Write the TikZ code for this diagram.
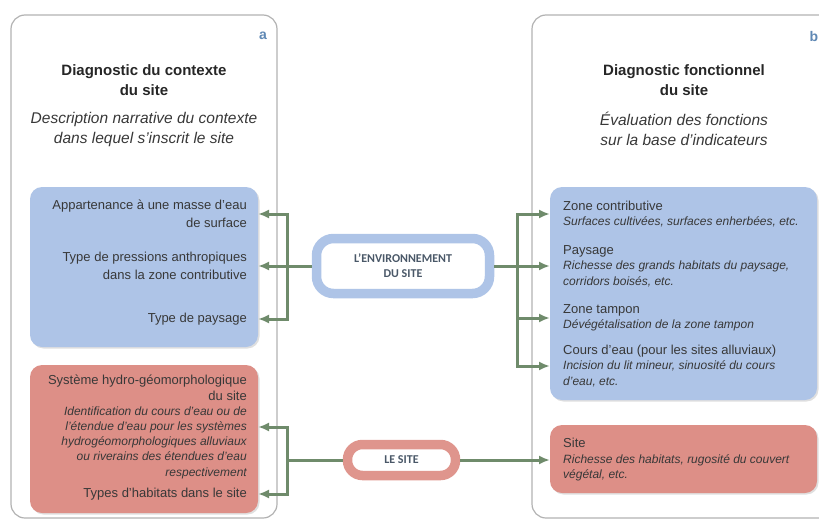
\documentclass[tikz,border=0pt]{standalone}
\usepackage{fontspec}
\setmainfont{Liberation Sans}
\newfontfamily\capfont{Carlito}
\usepackage{tikz}
\usetikzlibrary{arrows.meta,shadows}
\definecolor{boxblue}{HTML}{AEC4E7}
\definecolor{boxred}{HTML}{DD8F87}
\definecolor{linkgreen}{HTML}{6F8B6B}
\definecolor{txtgray}{HTML}{383838}
\definecolor{capgray}{HTML}{4A5868}
\definecolor{letterblue}{HTML}{5F88B4}
\newcommand\itnote[1]{{\fontsize{12}{15}\selectfont\itshape #1}}

\begin{document}
\begin{tikzpicture}[x=1pt, y=-1pt,
  panel/.style={draw=gray!60, line width=1.2, rounded corners=14, inner sep=0},
  colbox/.style={rounded corners=12, inner sep=0, drop shadow={opacity=0.25, shadow xshift=1.5pt, shadow yshift=-1.5pt}},
  title/.style={font=\bfseries\fontsize{15}{20}\selectfont, align=center, text=black!85},
  subtitle/.style={font=\itshape\fontsize{15.5}{20}\selectfont, align=center, text=txtgray},
  letter/.style={font=\bfseries\fontsize{14}{14}\selectfont, text=letterblue},
  leftitem/.style={anchor=east, align=right, inner xsep=11, inner ysep=0, text=txtgray, font=\fontsize{13}{17.5}\selectfont},
  rightitem/.style={anchor=west, align=left, inner xsep=13, inner ysep=0, text=txtgray, font=\fontsize{13}{15.5}\selectfont},
  hub/.style={draw, fill=white, line width=9.5, rounded corners=17, inner sep=0, align=center, text=capgray, font=\capfont\bfseries\fontsize{12}{15}\selectfont},
  link/.style={draw=linkgreen, line width=3},
  arr/.style={link, -{Latex[length=11pt, width=9pt]}}]
\clip (0,0) rectangle (819,522);
%panels
\node[panel, minimum width=266, minimum height=503] (pa) at (144,266.5) {};
\node[panel, minimum width=304, minimum height=503] (pb) at (684,266.5) {};
\node[letter] (la) at (263,36) {a};
\node[letter] (lb) at (814,36) {b};
\node[title] (ta) at (144,80) {Diagnostic du contexte\\du site};
\node[subtitle] (sa) at (144,129) {Description narrative du contexte\\dans lequel s’inscrit le site};
\node[title] (tb) at (684,80) {Diagnostic fonctionnel\\du site};
\node[subtitle] (sb) at (684,129) {Évaluation des fonctions\\sur la base d’indicateurs};
%coloured boxes
\node[colbox, fill=boxblue, minimum width=228, minimum height=160] (ga) at (144,267) {};
\node[colbox, fill=boxblue, minimum width=267, minimum height=213] (gb) at (683.5,293.5) {};
\node[colbox, fill=boxred, minimum width=228, minimum height=148] (ra) at (144,439) {};
\node[colbox, fill=boxred, minimum width=267, minimum height=68] (rb) at (683.5,459) {};
%left items
\node[leftitem] (a1) at (258,214) {Appartenance à une masse d’eau\\de surface};
\node[leftitem] (a2) at (258,266) {Type de pressions anthropiques\\dans la zone contributive};
\node[leftitem] (a3) at (258,319) {Type de paysage};
\node[leftitem, font=\fontsize{13}{15.2}\selectfont] (s1) at (258,427) {Système hydro-géomorphologique\\du site\\\itnote{Identification du cours d’eau ou de}\\\itnote{l’étendue d’eau pour les systèmes}\\\itnote{hydrogéomorphologiques alluviaux}\\\itnote{ou riverains des étendues d’eau}\\\itnote{respectivement}};
\node[leftitem] (s2) at (258,494) {Types d’habitats dans le site};
%right items
\node[rightitem] (b1) at (550,214) {Zone contributive\\\itnote{Surfaces cultivées, surfaces enherbées, etc.}};
\node[rightitem] (b2) at (550,266) {Paysage\\\itnote{Richesse des grands habitats du paysage,}\\\itnote{corridors boisés, etc.}};
\node[rightitem] (b3) at (550,318) {Zone tampon\\\itnote{Dévégétalisation de la zone tampon}};
\node[rightitem] (b4) at (550,366) {Cours d’eau (pour les sites alluviaux)\\\itnote{Incision du lit mineur, sinuosité du cours}\\\itnote{d’eau, etc.}};
\node[rightitem] (s3) at (550,460) {Site\\\itnote{Richesse des habitats, rugosité du couvert}\\\itnote{végétal, etc.}};
%hubs
\node[hub, draw=boxblue, minimum width=173, minimum height=55] (env) at (403,266) {L’ENVIRONNEMENT\\DU SITE};
\node[hub, draw=boxred!95!white, minimum width=108, minimum height=31, rounded corners=15] (site) at (401.5,460) {LE SITE};
%connectors
\coordinate (jl) at ([xshift=-24pt]env.west);
\coordinate (jr) at ([xshift=23pt]env.east);
\coordinate (kl) at ([xshift=-55pt]site.west);
\draw[link] (env.west) -- (jl);
\draw[link] (env.east) -- (jr);
\draw[link] (site.west) -- (kl);
\foreach \n in {a1,a2,a3} \draw[arr] (jl) |- (\n.east);
\foreach \n in {b1,b2,b3,b4} \draw[arr] (jr) |- (\n.west);
\foreach \n in {s1,s2} \draw[arr] (kl) |- (\n.east);
\draw[arr] (site.east) -- (s3.west);
\end{tikzpicture}
\end{document}
